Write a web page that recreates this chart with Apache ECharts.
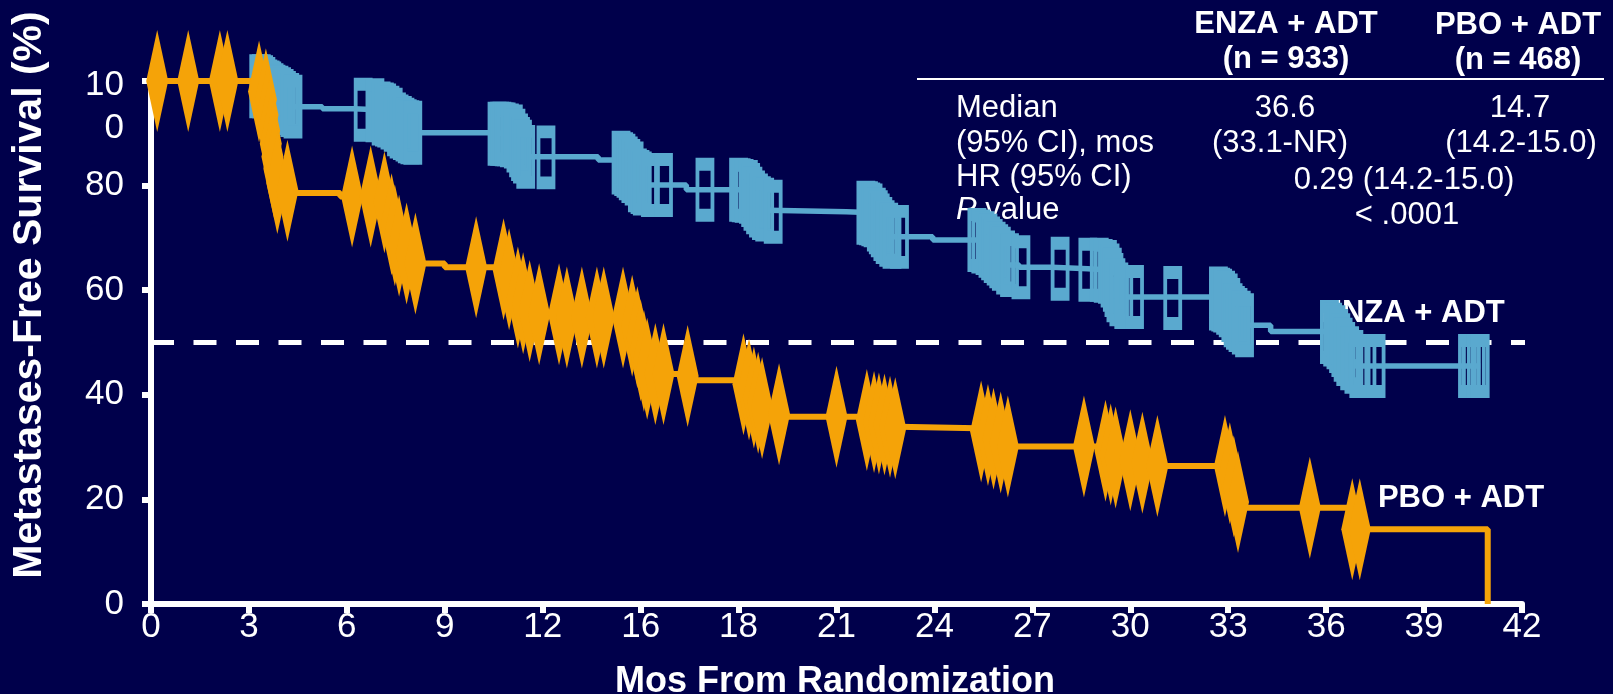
<!DOCTYPE html>
<html><head><meta charset="utf-8">
<script src="https://cdn.jsdelivr.net/npm/echarts@6/dist/echarts.min.js"></script>
<style>html,body{margin:0;padding:0;background:#00004b;}#c{width:1613px;height:694px;}</style>
</head><body><div id="c"></div>
<script>
// ---- axis ticks ----
const xTickValues = [0,3,6,9,12,15,18,21,24,27,30,33,36,39,42];
const xTickLabels = ['0','3','6','9','12','16','18','21','24','27','30','33','36','39','42'];
const yTickValues = [0,20,40,60,80,100];
const yTickLabels = ['0','20','40','60','80','10\n0'];

// ---- ENZA + ADT (step curve, survival %) ----
const enzaCurve = [
  [0,100],[3.2,99.4],[3.4,99.0],[3.55,98.3],[3.75,97.5],[3.9,97.0],[4.1,96.0],[4.3,95.1],
  [5.25,94.7],[6.2,94.5],
  [6.95,94.0],[7.1,93.6],[7.35,92.6],[7.5,91.7],[7.7,91.0],[7.9,90.1],
  [10.5,89.9],[10.9,89.6],[11.15,88.6],[11.25,87.7],[11.4,86.5],[11.45,85.5],
  [13.7,84.9],[14.5,84.2],[14.6,83.6],[14.7,82.5],[14.85,81.5],[14.95,80.5],[15.1,80.1],
  [16.4,79.2],
  [18.25,78.8],[18.4,77.5],[18.55,76.2],[18.7,75.3],[18.9,75.0],
  [21.3,74.8],[22.15,73.5],[22.3,72.4],[22.45,71.1],[22.6,70.2],
  [23.95,69.6],
  [25.5,69.0],[25.65,68.0],[25.85,67.0],[26.0,66.0],[26.15,64.8],[26.6,64.4],
  [27.6,64.1],[28.7,63.9],
  [29.2,63.5],[29.35,62.0],[29.5,60.0],[29.65,58.7],
  [32.6,58.4],[32.9,57.1],[33.1,55.2],[33.25,54.3],[33.4,53.3],
  [34.3,52.1],
  [36.2,51.0],[36.35,50.2],[36.5,48.9],[36.6,47.5],[36.75,46.3],[36.9,45.5],
  [40.72,45.5]
];
const enzaCensored = [
  [3.3,99.0],[3.38,99.0],[3.45,98.8],[3.52,98.5],[3.58,98.0],[3.65,97.8],[3.7,97.6],[3.77,97.3],[3.83,97.0],[3.92,96.8],[4.0,96.5],[4.08,96.2],[4.15,95.8],[4.25,95.4],[4.35,95.1],
  [6.5,94.5],[6.86,94.4],
  [7.05,93.8],[7.15,93.6],[7.22,93.4],[7.32,93.0],[7.42,92.6],[7.52,91.7],[7.6,91.3],[7.7,91.0],[7.78,90.7],[7.85,90.4],[7.93,90.2],[8.02,90.1],
  [10.6,89.9],[10.68,89.9],[10.75,89.9],[10.82,89.8],[10.88,89.8],[10.98,89.6],[11.1,89.4],[11.18,88.6],[11.26,87.7],[11.32,87.0],[11.38,86.5],[11.48,85.5],
  [12.1,85.4],
  [14.4,84.4],[14.48,84.1],[14.55,83.8],[14.62,83.3],[14.7,82.8],[14.8,82.3],[14.9,81.0],[14.98,80.7],[15.05,80.4],[15.3,80.1],[15.7,80.1],
  [16.97,79.2],
  [18.0,79.2],[18.08,79.1],[18.17,79.0],[18.3,78.8],[18.37,78.2],[18.44,77.5],[18.52,76.8],[18.61,76.2],[18.7,75.7],[18.8,75.4],[19.06,75.0],
  [21.9,74.8],[21.98,74.7],[22.05,74.5],[22.12,74.3],[22.22,73.5],[22.28,73.0],[22.34,72.4],[22.42,71.7],[22.49,71.1],[22.6,70.6],[22.7,70.2],[22.93,70.2],
  [25.3,69.6],[25.42,69.3],[25.55,69.0],[25.64,68.5],[25.72,68.0],[25.8,67.5],[25.89,67.0],[25.97,66.5],[26.05,66.0],[26.18,65.3],[26.3,64.8],[26.65,64.4],
  [27.85,64.1],[28.7,63.9],
  [29.05,63.9],[29.17,63.7],[29.3,63.5],[29.38,62.8],[29.45,62.0],[29.5,61.0],[29.56,60.0],[29.65,59.2],[29.8,58.7],[30.13,58.7],
  [31.3,58.5],
  [32.7,58.4],[32.77,58.2],[32.83,58.0],[32.92,57.6],[33.0,57.1],[33.08,56.2],[33.15,55.2],[33.22,54.7],[33.3,54.3],[33.4,53.8],[33.5,53.3],
  [36.1,52.0],[36.2,51.5],[36.3,51.0],[36.38,50.3],[36.45,49.5],[36.52,48.6],[36.6,47.8],[36.72,47.0],[36.85,46.3],[37.0,45.5],[37.25,45.5],[37.53,45.5],
  [40.33,45.5],[40.45,45.5],[40.6,45.5],[40.72,45.5]
];

// ---- PBO + ADT ----
const pboCurve = [
  [0,100],[3.3,98.5],[3.45,97],[3.52,95.5],[3.57,93],[3.62,90],[3.67,87.5],[3.72,85],[3.78,83],[3.85,80.5],[4.1,79.3],[4.3,78.6],
  [5.8,77.9],
  [7.0,76.8],[7.3,72.6],[7.42,70.5],[7.55,68.5],[7.75,67.0],[7.95,65.1],
  [9.0,64.4],
  [10.9,62.1],[11.1,60.0],[11.25,58.6],[11.45,57.0],[11.7,55.4],
  [12.9,54.8],
  [14.6,53.2],[14.8,51.0],[14.92,48.5],[15.02,46.5],[15.12,45.0],[15.3,44.0],
  [16.3,43.6],[16.6,42.8],
  [18.1,42.0],[18.25,41.0],[18.4,39.5],[18.55,38.5],[18.7,37.5],[18.9,36.3],[19.4,35.8],
  [21.85,35.2],[22.05,34.8],[22.3,34.3],[22.6,33.9],[22.9,33.6],
  [25.3,33.0],[25.5,32.3],[25.7,31.6],[25.9,30.9],[26.2,30.1],
  [29.1,29.3],[29.3,28.6],[29.5,28.0],[29.9,27.5],[30.3,27.0],[30.7,26.4],
  [33.0,25.0],[33.1,22.5],[33.2,20.5],[33.3,18.4],
  [36.7,14.3],
  [40.95,0]
];
const pboCensored = [
  [0.19,100],[1.14,100],[2.11,100],[2.34,100],
  [3.31,98.0],[3.52,96.5],[3.57,93.5],[3.62,90.5],[3.67,88],[3.72,85.5],[3.78,83.2],[3.87,80.5],[4.18,79.0],
  [6.16,77.9],[6.73,77.9],[7.15,76.8],[7.37,72.6],[7.47,70.5],[7.6,68.5],[7.83,67.0],[8.1,65.1],
  [9.96,64.4],[10.8,64.0],[10.97,62.1],[11.24,58.6],[11.4,57.5],[11.6,56.0],[11.89,55.4],[12.5,55.4],
  [12.74,54.8],[13.2,54.8],[13.66,54.8],[13.87,54.8],[14.46,54.8],[14.74,53.2],[14.9,51.0],[15.0,48.5],[15.1,46.5],[15.2,45.0],[15.45,44.0],[15.7,44.0],[16.44,43.6],
  [18.15,42.0],[18.32,41.0],[18.47,39.5],[18.6,38.5],[18.72,37.5],[19.24,36.3],[21.0,35.8],
  [21.93,35.2],[22.15,34.8],[22.3,34.5],[22.47,34.3],[22.64,33.9],[22.8,33.6],
  [25.43,33.0],[25.64,32.3],[25.81,31.6],[26.03,30.9],[26.25,30.1],
  [28.58,30.1],[29.24,29.3],[29.4,28.6],[29.55,28.0],[30.0,27.5],[30.37,27.0],[30.83,26.4],
  [32.9,26.4],[33.05,25.0],[33.17,22.5],[33.3,19.5],
  [35.5,18.4],[36.8,14.3],[37.03,14.3]
];
const medianLine = [[0,50],[42.45,50]];

const BG = '#00004b', BLUE = '#5aa9cf', ORANGE = '#f5a308', WHITE = '#ffffff';
const FONT = '"Liberation Sans", Arial, Helvetica, sans-serif';

const chart = echarts.init(document.getElementById('c'));
function txt(text, x, y, opts, extra) {
  return Object.assign({
    type: 'text', x: x, y: y, z: 0,
    style: Object.assign({
      text: text, fill: WHITE, font: '31px ' + FONT,
      textAlign: 'center', textVerticalAlign: 'middle'
    }, opts || {})
  }, extra || {});
}
chart.setOption({
  backgroundColor: BG,
  animation: false,
  grid: { left: 151, right: 91, top: 81, bottom: 90, containLabel: false },
  xAxis: {
    type: 'value', min: 0, max: 42, interval: 3,
    axisLine: { show: true, lineStyle: { color: WHITE, width: 6 } },
    axisTick: { show: true, length: 9, lineStyle: { color: WHITE, width: 6 } },
    splitLine: { show: false },
    axisLabel: {
      color: WHITE, fontSize: 35, fontFamily: FONT, margin: 6,
      formatter: v => { const i = xTickValues.indexOf(v); return i < 0 ? '' : xTickLabels[i]; }
    }
  },
  yAxis: {
    type: 'value', min: 0, max: 100, interval: 20,
    axisLine: { show: true, lineStyle: { color: WHITE, width: 6 } },
    axisTick: { show: true, length: 9, lineStyle: { color: WHITE, width: 6 } },
    splitLine: { show: false },
    axisLabel: {
      color: WHITE, fontSize: 35, fontFamily: FONT, margin: 27, lineHeight: 43,
      rich: { s: { height: 51, fontSize: 35, lineHeight: 51 } },
      formatter: v => {
        const i = yTickValues.indexOf(v); if (i < 0) return '';
        const s = yTickLabels[i];
        return s.indexOf('\n') >= 0 ? '{s| }\n' + s : s;
      }
    }
  },
  graphic: { elements: [
    txt('Metastases-Free Survival (%)', 30, 295, { font: 'bold 41px ' + FONT }, { rotation: Math.PI / 2 }),
    txt('Mos From Randomization', 835, 682, { font: 'bold 36px ' + FONT }),
    { type: 'line', z: 0, shape: { x1: 917, y1: 79, x2: 1604, y2: 79 }, style: { stroke: WHITE, lineWidth: 2 } },
    txt('ENZA + ADT', 1286, 24, { font: 'bold 31px ' + FONT }),
    txt('(n = 933)', 1286, 59, { font: 'bold 31px ' + FONT }),
    txt('PBO + ADT', 1518, 25, { font: 'bold 31px ' + FONT }),
    txt('(n = 468)', 1518, 60, { font: 'bold 31px ' + FONT }),
    txt('Median', 956, 108, { textAlign: 'left' }),
    txt('(95% CI), mos', 956, 143, { textAlign: 'left' }),
    txt('HR (95% CI)', 956, 177, { textAlign: 'left' }),
    { type: 'text', x: 956, y: 210, z: 0, style: { text: '{i|P} value', fill: WHITE, font: '31px ' + FONT,
        textAlign: 'left', textVerticalAlign: 'middle',
        rich: { i: { fontStyle: 'italic', fontSize: 31, fontFamily: FONT, fill: WHITE } } } },
    txt('36.6', 1285, 108),
    txt('(33.1-NR)', 1280, 143),
    txt('14.7', 1520, 108),
    txt('(14.2-15.0)', 1521, 143),
    txt('0.29 (14.2-15.0)', 1404, 180),
    txt('< .0001', 1407, 215),
    txt('ENZA + ADT', 1413, 313, { font: 'bold 31px ' + FONT }),
    txt('PBO + ADT', 1461, 498, { font: 'bold 31px ' + FONT })
  ]},
  series: [
    { type: 'line', data: medianLine, z: 1, clip: false, showSymbol: false, silent: true,
      lineStyle: { color: WHITE, width: 5, type: [23, 19.5], cap: 'butt' } },
    { type: 'line', data: enzaCurve, step: 'end', z: 2, clip: false, showSymbol: false,
      lineStyle: { color: BLUE, width: 5.5 } },
    { type: 'scatter', data: enzaCensored, z: 3, clip: false, symbol: 'rect', symbolSize: [15, 51],
      itemStyle: { color: 'rgba(0,0,0,0)', borderColor: BLUE, borderWidth: 7, opacity: 1 } },
    { type: 'line', data: pboCurve, step: 'end', z: 4, clip: false, showSymbol: false,
      lineStyle: { color: ORANGE, width: 6 } },
    { type: 'scatter', data: pboCensored, z: 5, clip: false, symbol: 'diamond', symbolSize: [22, 102],
      itemStyle: { color: ORANGE, opacity: 1 } }
  ]
});
</script></body></html>
